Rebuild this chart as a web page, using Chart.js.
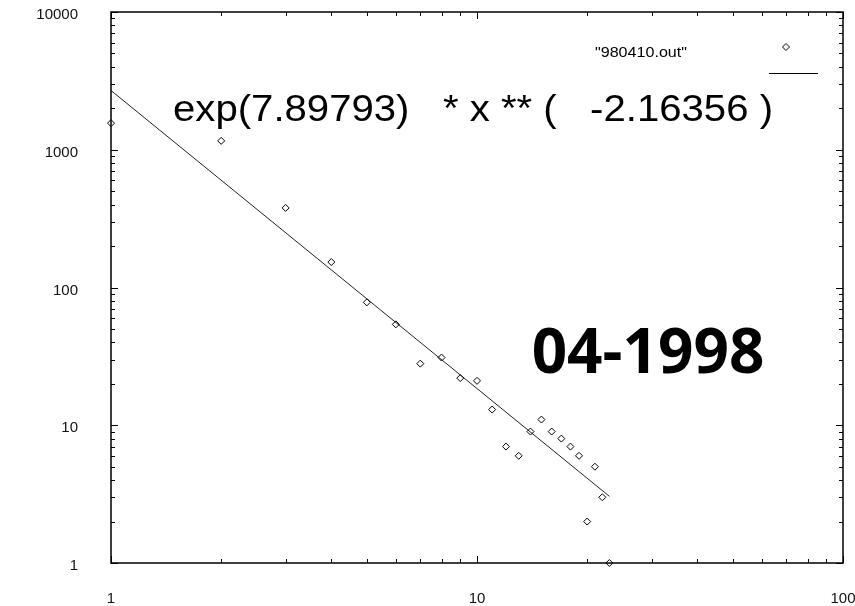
<!DOCTYPE html>
<html>
<head>
<meta charset="utf-8">
<script src="https://cdn.jsdelivr.net/npm/chart.js@4"></script>
<style>
  html, body { margin: 0; padding: 0; background: #fff; }
  #chart { display: block; }
</style>
</head>
<body>
<canvas id="chart" width="855" height="606"></canvas>
<script>
// Size distribution for 04-1998 (data file 980410.out), log-log
const sizes = [1, 2, 3, 4, 5, 6, 7, 8, 9, 10, 11, 12, 13, 14, 15, 16, 17, 18, 19, 20, 21, 22, 23];
const counts = [1560, 1160, 378, 153, 78, 54, 28, 31, 22, 21, 13, 7, 6, 9, 11, 9, 8, 7, 6, 2, 5, 3, 1];

// Power-law fit: exp(fitA) * x ** fitB, drawn over the data range
const fitA = 7.89793;
const fitB = -2.16356;
const fitRange = [1, 23];

const xTicks = [1, 10, 100];
const yTicks = [1, 10, 100, 1000, 10000];

const dataLabel = '"980410.out"';
const fitLabel = `exp(${fitA})   * x ** (   ${fitB} )`;
const stampLabel = '04-1998';

const FONT = '"Liberation Sans", Arial, Helvetica, sans-serif';
const STRETCH = 1.15; // text is drawn slightly wide, like the old plot

const points = sizes.map((x, i) => ({ x, y: counts[i] }));
const fitLine = fitRange.map((x) => ({ x, y: Math.exp(fitA) * Math.pow(x, fitB) }));

// Draw stretched text starting at (x, y)
const wideText = (ctx, text, x, y, font, width) => {
  ctx.save();
  ctx.font = font;
  const w = ctx.measureText(text).width;
  const sx = width ? width / w : STRETCH;
  ctx.translate(x, y);
  ctx.scale(sx, 1);
  ctx.textAlign = 'left';
  ctx.textBaseline = 'alphabetic';
  ctx.fillText(text, 0, 0);
  ctx.restore();
};

// Keep the tick label padding from shrinking the plot area
const noEdgePadding = (scale) => {
  scale.paddingTop = 0;
  scale.paddingBottom = 0;
  scale.paddingLeft = 0;
  scale.paddingRight = 0;
};

// Frame, inward tick marks on all four sides, key and date stamp
const framePlugin = {
  id: 'frame',
  afterDatasetsDraw(chart) {
    const { ctx, chartArea: a, scales } = chart;
    ctx.save();
    ctx.strokeStyle = '#000';
    ctx.fillStyle = '#000';

    ctx.lineWidth = 1;
    const mark = (scale, lo, hi, horizontal) => {
      for (let e = Math.log10(lo); e <= Math.log10(hi); e++) {
        for (let k = 1; k <= 9; k++) {
          const v = k * Math.pow(10, e);
          if (v > hi) break;
          const len = k === 1 ? 7 : 4;
          const p = Math.round(scale.getPixelForValue(v)) + 0.5;
          ctx.beginPath();
          if (horizontal) {
            ctx.moveTo(p, a.bottom); ctx.lineTo(p, a.bottom - len);
            ctx.moveTo(p, a.top); ctx.lineTo(p, a.top + len);
          } else {
            ctx.moveTo(a.left, p); ctx.lineTo(a.left + len, p);
            ctx.moveTo(a.right, p); ctx.lineTo(a.right - len, p);
          }
          ctx.stroke();
        }
      }
    };
    mark(scales.x, 1, 100, true);
    mark(scales.y, 1, 10000, false);

    ctx.lineWidth = 1.5;
    ctx.strokeRect(a.left, a.top, a.right - a.left, a.bottom - a.top);

    // key: data entry
    wideText(ctx, dataLabel, 595, 57, `14px ${FONT}`);
    ctx.lineWidth = 1;
    ctx.fillStyle = '#fff';
    Chart.helpers.drawPoint(ctx, { pointStyle: 'rectRot', radius: 3.5, borderWidth: 1 }, 786, 47);
    ctx.fillStyle = '#000';

    // key: fit entry
    wideText(ctx, fitLabel, 173, 121, `36px ${FONT}`, 600);
    ctx.beginPath();
    ctx.moveTo(769, 73.5);
    ctx.lineTo(818, 73.5);
    ctx.stroke();

    // date stamp
    ctx.font = '700 62px "Open Sans", "Noto Sans", sans-serif';
    ctx.textAlign = 'center';
    ctx.textBaseline = 'alphabetic';
    ctx.fillText(stampLabel, 648, 373);
    ctx.restore();
  },
};

new Chart(document.getElementById('chart'), {
  type: 'scatter',
  data: {
    datasets: [
      {
        label: dataLabel,
        data: points,
        pointStyle: 'rectRot',
        pointRadius: 3.5,
        borderWidth: 1,
        borderColor: '#000',
        backgroundColor: 'rgba(0,0,0,0)',
        clip: false,
      },
      {
        type: 'line',
        label: fitLabel,
        data: fitLine,
        borderColor: '#222',
        borderWidth: 1,
        pointRadius: 0,
        fill: false,
      },
    ],
  },
  options: {
    responsive: false,
    animation: false,
    layout: { padding: { top: 12, right: 12, left: 0, bottom: 0 } },
    plugins: {
      legend: { display: false },
      tooltip: { enabled: false },
    },
    scales: {
      x: {
        type: 'logarithmic',
        min: 1,
        max: 100,
        afterBuildTicks: (scale) => { scale.ticks = xTicks.map((value) => ({ value })); },
        afterFit: (scale) => { scale.height = 43; noEdgePadding(scale); },
        grid: { display: false, drawTicks: false },
        border: { display: false },
        ticks: {
          autoSkip: false,
          maxRotation: 0,
          padding: 27,
          color: '#111',
          font: { family: FONT, size: 15 },
          callback: (v) => String(v),
        },
      },
      y: {
        type: 'logarithmic',
        min: 1,
        max: 10000,
        afterBuildTicks: (scale) => { scale.ticks = yTicks.map((value) => ({ value })); },
        afterFit: (scale) => { scale.width = 111; noEdgePadding(scale); },
        grid: { display: false, drawTicks: false },
        border: { display: false },
        ticks: {
          autoSkip: false,
          padding: 33,
          labelOffset: 3,
          color: '#111',
          font: { family: FONT, size: 15 },
          callback: (v) => String(v),
        },
      },
    },
  },
  plugins: [framePlugin],
});
</script>
</body>
</html>
